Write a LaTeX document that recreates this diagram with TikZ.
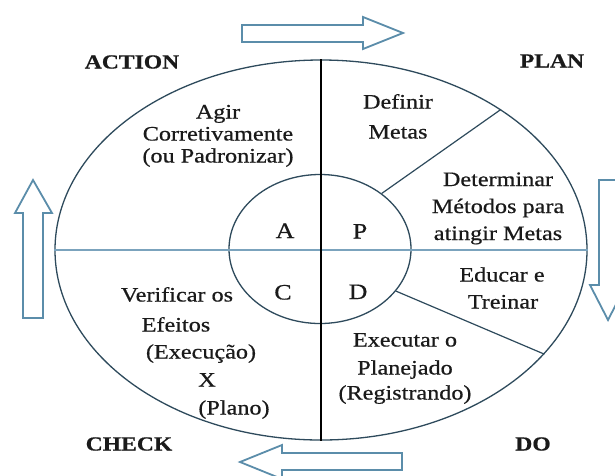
\documentclass[tikz,border=0pt]{standalone}
\usepackage{fontspec}
\setmainfont{Liberation Serif}[FakeStretch=1.18, FakeBold=0.6]
\usetikzlibrary{shapes.geometric}
\definecolor{lineC}{HTML}{2E4A5C}
\definecolor{hlineC}{HTML}{7BA3BD}
\definecolor{arrC}{HTML}{5B8DAA}
\definecolor{txtC}{HTML}{1A1A1A}
\begin{document}
\begin{tikzpicture}[x=1pt,y=-1pt,
  oval/.style={ellipse, draw=lineC, line width=1.3pt, inner sep=0pt},
  sep/.style={draw=lineC, line width=1.2pt},
  bigarrow/.style={draw=arrC, line width=1.8pt, fill=white, line join=miter},
  lbl/.style={font=\fontsize{20.5}{24}\selectfont, text=txtC, anchor=base, inner sep=0pt},
  hd/.style={font=\fontsize{20}{24}\selectfont\bfseries, text=txtC, anchor=base, inner sep=0pt},
  letter/.style={font=\fontsize{22}{26}\selectfont, text=txtC, anchor=base, inner sep=0pt}]
\useasboundingbox (0,0) rectangle (615,475);
\fill[white] (0,0) rectangle (615,475);
\clip (0,0) rectangle (615,475);

% big hollow arrows
\draw[bigarrow] (242,25)--(363,25)--(363,17)--(403,33)--(363,49)--(363,42)--(242,42)--cycle;
\draw[bigarrow] (23,318)--(23,213)--(15,213)--(33,180)--(52,213)--(43,213)--(43,318)--cycle;
\draw[bigarrow] (599,180)--(617,180)--(617,285)--(626,285)--(608,320)--(590,285)--(599,285)--cycle;
\draw[bigarrow] (402,453)--(282,453)--(282,445)--(240,462)--(282,479)--(282,470)--(402,470)--cycle;

% ellipses
\node[oval, minimum width=532pt, minimum height=380pt] (outer) at (321,250) {};
\node[oval, minimum width=182pt, minimum height=149pt] (inner) at (320,249) {};

% dividing lines
\draw[draw=hlineC, line width=2pt] (outer.west) -- (outer.east);
\draw[draw=black, line width=1.3pt] (outer.north) -- (outer.south);
\draw[sep] (inner.42.6) -- (outer.38.1);
\draw[sep] (inner.-29.5) -- (outer.-25.8);

% corner headings
\node[hd] (action) at (132,68.5) {ACTION};
\node[hd] (plan) at (552,67.5) {PLAN};
\node[hd] (check) at (129,450.5) {CHECK};
\node[hd] (do) at (533,450.5) {DO};

% inner letters
\node[letter] (la) at (285,238) {A};
\node[letter] (lp) at (360,238.5) {P};
\node[letter] (lc) at (283,299.5) {C};
\node[letter] (ld) at (358,299) {D};

% ACTION quadrant
\node[lbl] (a1) at (218,118.5) {Agir};
\node[lbl] (a2) at (218,140.5) {Corretivamente};
\node[lbl] (a3) at (218,162.5) {(ou Padronizar)};

% PLAN quadrant
\node[lbl] (p1) at (398,108.5) {Definir};
\node[lbl] (p2) at (398,138.5) {Metas};
\node[lbl] (p3) at (498,186) {Determinar};
\node[lbl] (p4) at (498,213) {Métodos para};
\node[lbl] (p5) at (498,240) {atingir Metas};

% DO quadrant
\node[lbl] (d1) at (502,281.5) {Educar e};
\node[lbl] (d2) at (503,308.5) {Treinar};
\node[lbl] (d3) at (405,346.5) {Executar o};
\node[lbl] (d4) at (405,374.5) {Planejado};
\node[lbl] (d5) at (405,399.5) {(Registrando)};

% CHECK quadrant
\node[lbl] (c1) at (177,301.5) {Verificar os};
\node[lbl] (c2) at (176,331.5) {Efeitos};
\node[lbl] (c3) at (201,358.5) {(Execução)};
\node[lbl] (c4) at (207,386.5) {X};
\node[lbl] (c5) at (234,414.5) {(Plano)};
\end{tikzpicture}
\end{document}
